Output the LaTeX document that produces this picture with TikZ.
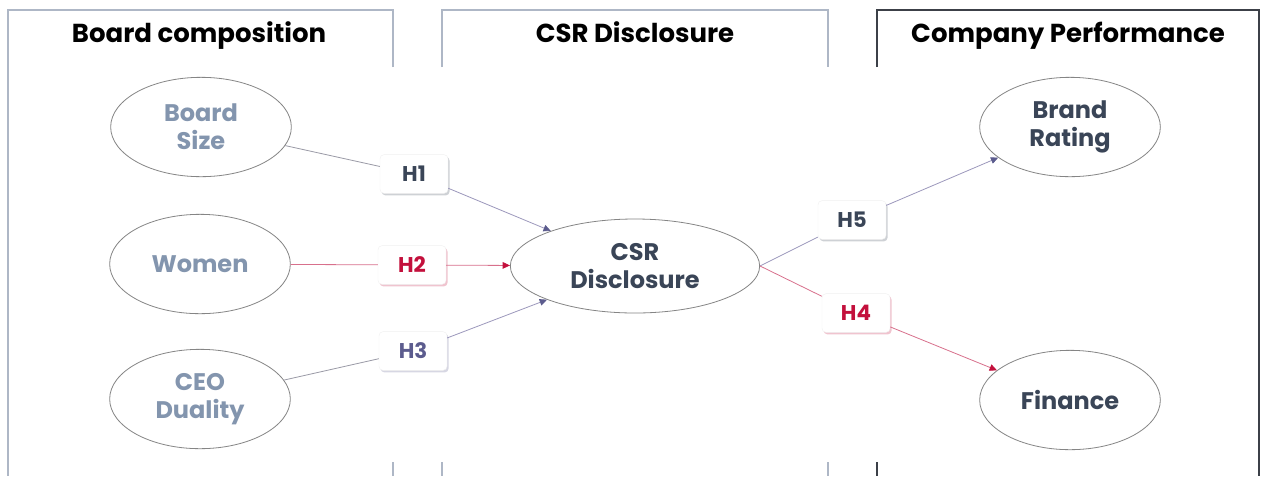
\documentclass[tikz,border=0pt]{standalone}
\usepackage{fontspec}
\setmainfont{Poppins}
\usetikzlibrary{shapes.geometric,shadows,arrows.meta}

\definecolor{framelight}{HTML}{AEB7C6}
\definecolor{framedark}{HTML}{3C4048}
\definecolor{ringgray}{HTML}{858585}
\definecolor{softslate}{HTML}{8395AE}
\definecolor{darkslate}{HTML}{3A4557}
\definecolor{crimson}{HTML}{C3103C}
\definecolor{violet}{HTML}{5C5C8E}
\definecolor{linkgray}{HTML}{9A9AA6}
\definecolor{linkviolet}{HTML}{9C98BC}
\definecolor{linkred}{HTML}{D8708C}

\tikzset{
  heading/.style={font=\bfseries\fontsize{19.5}{24}\selectfont, text=black, anchor=base},
  construct/.style={ellipse, draw=ringgray, line width=0.6pt, fill=white,
    minimum width=135.5pt, minimum height=74.5pt, inner sep=0pt,
    align=center, font=\bfseries\fontsize{18}{21}\selectfont},
  central/.style={construct, minimum width=187pt, minimum height=70.5pt},
  hypo/.style={rounded corners=3pt, fill=white, draw=gray!12, line width=0.3pt,
    minimum width=51pt, minimum height=29pt, inner sep=0pt,
    font=\bfseries\fontsize{16}{18}\selectfont},
  hshadow/.style={drop shadow={opacity=0.35, fill=#1, shadow xshift=1.2pt, shadow yshift=-1.6pt}},
  link/.style={line width=0.6pt},
  violettip/.style={-{Triangle[length=5.5pt,width=5pt,fill=violet,color=violet]}},
  redtip/.style={-{Triangle[length=5.5pt,width=5pt,fill=crimson,color=crimson]}}
}

\begin{document}
\begin{tikzpicture}[x=0.75pt,y=-0.75pt]
  \useasboundingbox (0,0) rectangle (1266,476);
  \fill[white] (0,0) rectangle (1266,476);

  % column frames, open in the middle band
  \draw[framelight, line width=1.1pt] (393,67) -- (393,10) -- (8,10) -- (8,476);
  \draw[framelight, line width=1.1pt] (393,462) -- (393,476);
  \draw[framelight, line width=1.1pt] (442,67) -- (442,10) -- (828,10) -- (828,67);
  \draw[framelight, line width=1.1pt] (442,462) -- (442,476);
  \draw[framelight, line width=1.1pt] (828,462) -- (828,476);
  \draw[framedark, line width=1.1pt] (877,67) -- (877,10) -- (1259,10) -- (1259,476);
  \draw[framedark, line width=1.1pt] (877,462) -- (877,476);

  \node[heading] (t1) at (199,42) {Board composition};
  \node[heading] (t2) at (635,42) {CSR Disclosure};
  \node[heading] (t3) at (1068,42) {Company Performance};

  % constructs
  \node[construct, text=softslate] (bsize) at (201,127) {Board\\Size};
  \node[construct, text=softslate] (women) at (200,264) {Women};
  \node[construct, text=softslate] (ceo) at (200,399) {CEO\\Duality};
  \node[central, text=darkslate] (csr) at (635,266) {CSR\\Disclosure};
  \node[construct, text=darkslate] (brand) at (1070,127) {Brand\\Rating};
  \node[construct, text=darkslate] (fin) at (1070,400) {Finance};

  % hypotheses
  \node[hypo, hshadow=darkslate!70, text=darkslate] (h1) at (414,174) {H1};
  \node[hypo, hshadow=crimson!70, text=crimson] (h2) at (412,265) {H2};
  \node[hypo, hshadow=violet!70, text=violet] (h3) at (413,351) {H3};
  \node[hypo, hshadow=darkslate!70, text=darkslate] (h5) at (852,220) {H5};
  \node[hypo, hshadow=crimson!70, text=crimson] (h4) at (856,313) {H4};

  % paths
  \draw[link, linkgray] (bsize) -- (h1);
  \draw[link, linkviolet, violettip] (h1) -- (csr);
  \draw[link, linkred] (women) -- (h2);
  \draw[link, linkred, redtip] (h2) -- (csr);
  \draw[link, linkgray] (ceo) -- (h3);
  \draw[link, linkviolet, violettip] (h3) -- (csr);
  \draw[link, linkviolet] (csr.east) -- (h5);
  \draw[link, linkviolet, violettip] (h5) -- (brand);
  \draw[link, linkred] (csr.east) -- (h4);
  \draw[link, linkred, redtip] (h4) -- (fin);
\end{tikzpicture}
\end{document}
